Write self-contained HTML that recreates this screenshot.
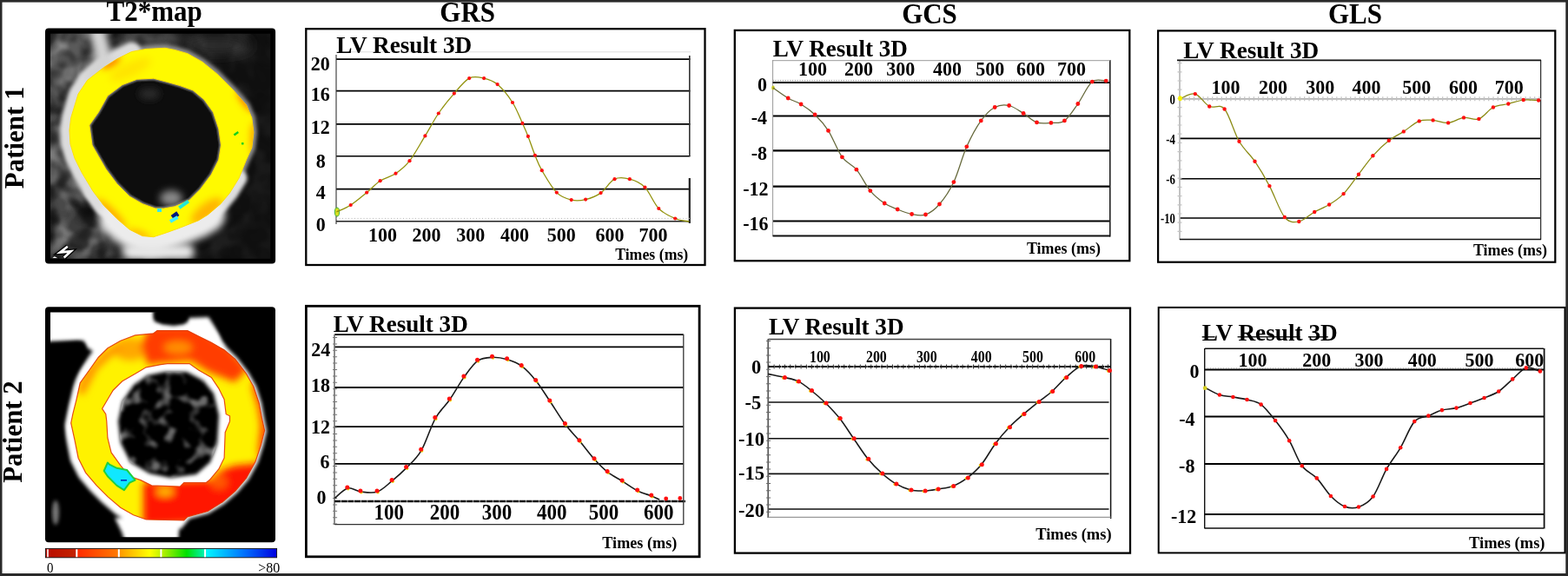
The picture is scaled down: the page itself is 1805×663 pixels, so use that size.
<!DOCTYPE html>
<html lang="en"><head><meta charset="utf-8"><title>T2* map and strain curves</title>
<style>
html,body{margin:0;padding:0;background:#fff;}
body{width:1805px;height:663px;overflow:hidden;}
svg{display:block;font-family:"Liberation Serif","DejaVu Serif",serif;}
</style></head><body>
<svg width="1805" height="663" viewBox="0 0 1805 663">
<defs>
<filter id="b1" filterUnits="userSpaceOnUse" x="0" y="0" width="400" height="663"><feGaussianBlur stdDeviation="1"/></filter>
<filter id="b2" filterUnits="userSpaceOnUse" x="0" y="0" width="400" height="663"><feGaussianBlur stdDeviation="2.2"/></filter>
<filter id="b4" filterUnits="userSpaceOnUse" x="0" y="0" width="400" height="663"><feGaussianBlur stdDeviation="4"/></filter>
<filter id="b7" filterUnits="userSpaceOnUse" x="0" y="0" width="400" height="663"><feGaussianBlur stdDeviation="7"/></filter>
<linearGradient id="cbar" x1="0" x2="1" y1="0" y2="0">
<stop offset="0" stop-color="#b80c00"/><stop offset="0.135" stop-color="#c42400"/><stop offset="0.14" stop-color="#ff2c00"/>
<stop offset="0.31" stop-color="#ff7800"/><stop offset="0.325" stop-color="#ff9c00"/><stop offset="0.45" stop-color="#ffff00"/>
<stop offset="0.505" stop-color="#b8f000"/><stop offset="0.61" stop-color="#00e000"/><stop offset="0.685" stop-color="#00f0b0"/>
<stop offset="0.70" stop-color="#00f4ff"/><stop offset="0.85" stop-color="#0078ff"/><stop offset="1" stop-color="#0000e0"/>
</linearGradient>
<filter id="nz1" filterUnits="userSpaceOnUse" x="52" y="33" width="266" height="271" color-interpolation-filters="sRGB">
<feTurbulence type="fractalNoise" baseFrequency="0.038" numOctaves="2" seed="7" result="n"/>
<feColorMatrix in="n" type="matrix" values="0 0 0 0 1  0 0 0 0 1  0 0 0 0 1  4 0 0 0 -1.7" result="a"/>
<feGaussianBlur in="a" stdDeviation="1.2" result="b"/>
<feComposite in="b" in2="SourceGraphic" operator="in"/>
</filter>
<filter id="nz2" filterUnits="userSpaceOnUse" x="52" y="33" width="266" height="271" color-interpolation-filters="sRGB">
<feTurbulence type="fractalNoise" baseFrequency="0.045" numOctaves="2" seed="21" result="n"/>
<feColorMatrix in="n" type="matrix" values="0 0 0 0 0  0 0 0 0 0  0 0 0 0 0  0 4 0 0 -1.7" result="a"/>
<feGaussianBlur in="a" stdDeviation="1.2" result="b"/>
<feComposite in="b" in2="SourceGraphic" operator="in"/>
</filter>
<filter id="nz3" filterUnits="userSpaceOnUse" x="52" y="353" width="266" height="272" color-interpolation-filters="sRGB">
<feTurbulence type="fractalNoise" baseFrequency="0.055" numOctaves="2" seed="11" result="n"/>
<feColorMatrix in="n" type="matrix" values="0 0 0 0 1  0 0 0 0 1  0 0 0 0 1  5 0 0 0 -2.6" result="a"/>
<feGaussianBlur in="a" stdDeviation="1.4" result="b"/>
<feComposite in="b" in2="SourceGraphic" operator="in"/>
</filter>
<linearGradient id="lg1" x1="0" x2="1" y1="0" y2="0"><stop offset="0" stop-color="#fff"/><stop offset="0.35" stop-color="#fff" stop-opacity="0.8"/><stop offset="0.6" stop-color="#fff" stop-opacity="0.25"/><stop offset="1" stop-color="#fff" stop-opacity="0.12"/></linearGradient>
<mask id="mk1" maskUnits="userSpaceOnUse" x="52" y="33" width="266" height="271"><rect x="52" y="33" width="266" height="271" fill="url(#lg1)"/></mask>
<clipPath id="clip1"><rect x="58" y="38.8" width="253.3" height="259"/></clipPath>
<clipPath id="clip2"><rect x="58" y="359.6" width="253" height="258.6"/></clipPath>
</defs>
<rect x="0" y="0" width="1805" height="663" fill="#fff"/>
<rect x="0" y="0" width="1805" height="2.6" fill="#2a2a2a"/>
<rect x="0" y="0" width="2.5" height="663" fill="#2a2a2a"/>
<rect x="1802.3" y="0" width="2.7" height="663" fill="#2a2a2a"/>
<rect x="0" y="660" width="1805" height="3" fill="#2a2a2a"/>
<text transform="translate(177.7 23.5) scale(1.0 1.08)" font-size="31" text-anchor="middle" font-weight="bold" >T2*map</text>
<text transform="translate(538.2 24.6) scale(1.0 1.08)" font-size="31" text-anchor="middle" font-weight="bold" >GRS</text>
<text transform="translate(1070.0 27.2) scale(1.0 1.08)" font-size="31" text-anchor="middle" font-weight="bold" >GCS</text>
<text transform="translate(1560.0 27.0) scale(1.0 1.08)" font-size="31" text-anchor="middle" font-weight="bold" >GLS</text>
<text transform="translate(27.3,158.4) rotate(-90) scale(1.03 1.08)" font-size="30" font-weight="bold" text-anchor="middle">Patient 1</text>
<text transform="translate(24.6,497) rotate(-90) scale(1.03 1.08)" font-size="30" font-weight="bold" text-anchor="middle">Patient 2</text>
<rect x="52" y="32.6" width="265.1" height="270.9" rx="4" fill="#000"/>
<clipPath id="ring1"><path d="M168.2,56.4 L190.0,55.3 L201.1,57.4 L215.9,61.7 L232.8,71.2 L249.7,84.9 L268.7,103.9 L283.5,120.8 L289.8,135.6 L291.9,152.5 L289.8,170.0 L283.5,184.0 L275.0,205.1 L264.5,222.0 L253.9,234.7 L239.1,247.3 L228.6,253.7 L207.4,262.1 L192.7,267.4 L176.7,272.7 L164.0,271.6 L149.2,264.2 L134.5,251.6 L119.7,236.8 L107.0,219.9 L94.3,198.8 L85.9,181.9 L81.0,166.0 L80.0,150.0 L81.7,135.6 L90.1,108.1 L100.7,92.3 L119.7,77.5 L134.5,68.0 L151.4,59.6Z M176.7,90.2 L192.7,94.4 L207.4,98.6 L222.2,103.9 L234.9,114.5 L245.5,129.2 L251.8,148.2 L254.5,167.0 L251.8,184.0 L243.3,200.9 L230.7,217.8 L218.0,230.5 L201.1,237.8 L188.4,240.0 L178.8,240.0 L164.0,234.7 L149.2,226.2 L134.5,211.5 L121.8,194.6 L113.3,179.8 L106.0,167.0 L102.8,144.0 L113.3,129.2 L123.9,110.2 L140.8,97.6 L157.7,91.2Z" clip-rule="evenodd"/></clipPath>
<g clip-path="url(#clip1)">
<rect x="58" y="38" width="254" height="260" fill="#101010"/>
<g filter="url(#b7)">
<ellipse cx="80" cy="80" rx="34" ry="48" fill="#5a5a5a"/>
<ellipse cx="72" cy="200" rx="22" ry="60" fill="#4a4a4a"/>
<ellipse cx="100" cy="275" rx="40" ry="26" fill="#3c3c3c"/>
<ellipse cx="170" cy="45" rx="40" ry="12" fill="#4c4c4c"/>
<ellipse cx="250" cy="52" rx="40" ry="10" fill="#333"/>
</g>
<g mask="url(#mk1)"><rect x="58" y="38" width="254" height="260" fill="#fff" opacity="0.30" filter="url(#nz1)"/><rect x="58" y="38" width="254" height="260" fill="#000" opacity="0.55" filter="url(#nz2)"/></g>
<g fill="none" stroke-linecap="round" stroke-linejoin="round">
<polygon points="168.2,56.4 190.0,55.3 201.1,57.4 215.9,61.7 232.8,71.2 249.7,84.9 268.7,103.9 283.5,120.8 289.8,135.6 291.9,152.5 289.8,170.0 283.5,184.0 275.0,205.1 264.5,222.0 253.9,234.7 239.1,247.3 228.6,253.7 207.4,262.1 192.7,267.4 176.7,272.7 164.0,271.6 149.2,264.2 134.5,251.6 119.7,236.8 107.0,219.9 94.3,198.8 85.9,181.9 81.0,166.0 80.0,150.0 81.7,135.6 90.1,108.1 100.7,92.3 119.7,77.5 134.5,68.0 151.4,59.6" stroke="#909090" stroke-width="8" filter="url(#b2)"/>
<path d="M119.7,236.8 L107.0,219.9 L94.3,198.8 L85.9,181.9 L81.0,166.0 L80.0,150.0 L81.7,135.6 L90.1,108.1 L100.7,92.3 L119.7,77.5 L134.5,68.0 L151.4,59.6" stroke="#dcdcdc" stroke-width="22" filter="url(#b2)"/>
<path d="M275.0,205.1 L264.5,222.0 L253.9,234.7 L239.1,247.3 L228.6,253.7 L207.4,262.1 L192.7,267.4 L176.7,272.7 L164.0,271.6 L149.2,264.2 L134.5,251.6 L119.7,236.8 L107.0,219.9" stroke="#dedede" stroke-width="19" filter="url(#b2)"/>
<path d="M239.1,247.3 L228.6,253.7 L207.4,262.1 L192.7,267.4 L176.7,272.7 L164.0,271.6 L149.2,264.2 L134.5,251.6" stroke="#ececec" stroke-width="40" filter="url(#b4)"/>
<path d="M110,28 L116,52 L120,70 L108,86" stroke="#d4d4d4" stroke-width="19" filter="url(#b4)"/>
<path d="M150,290 L215,290" stroke="#e8e8e8" stroke-width="18" filter="url(#b4)"/>
</g>
<polygon points="176.7,90.2 192.7,94.4 207.4,98.6 222.2,103.9 234.9,114.5 245.5,129.2 251.8,148.2 254.5,167.0 251.8,184.0 243.3,200.9 230.7,217.8 218.0,230.5 201.1,237.8 188.4,240.0 178.8,240.0 164.0,234.7 149.2,226.2 134.5,211.5 121.8,194.6 113.3,179.8 106.0,167.0 102.8,144.0 113.3,129.2 123.9,110.2 140.8,97.6 157.7,91.2" fill="#0b0b0b" stroke="#8a8a8a" stroke-width="2.5" filter="url(#b1)"/>
<g filter="url(#b4)"><ellipse cx="197" cy="228" rx="13" ry="9" fill="#8a8a8a"/><ellipse cx="172" cy="108" rx="12" ry="7" fill="#2a2a2a"/></g>
<path d="M168.2,56.4 L190.0,55.3 L201.1,57.4 L215.9,61.7 L232.8,71.2 L249.7,84.9 L268.7,103.9 L283.5,120.8 L289.8,135.6 L291.9,152.5 L289.8,170.0 L283.5,184.0 L275.0,205.1 L264.5,222.0 L253.9,234.7 L239.1,247.3 L228.6,253.7 L207.4,262.1 L192.7,267.4 L176.7,272.7 L164.0,271.6 L149.2,264.2 L134.5,251.6 L119.7,236.8 L107.0,219.9 L94.3,198.8 L85.9,181.9 L81.0,166.0 L80.0,150.0 L81.7,135.6 L90.1,108.1 L100.7,92.3 L119.7,77.5 L134.5,68.0 L151.4,59.6Z M176.7,90.2 L192.7,94.4 L207.4,98.6 L222.2,103.9 L234.9,114.5 L245.5,129.2 L251.8,148.2 L254.5,167.0 L251.8,184.0 L243.3,200.9 L230.7,217.8 L218.0,230.5 L201.1,237.8 L188.4,240.0 L178.8,240.0 L164.0,234.7 L149.2,226.2 L134.5,211.5 L121.8,194.6 L113.3,179.8 L106.0,167.0 L102.8,144.0 L113.3,129.2 L123.9,110.2 L140.8,97.6 L157.7,91.2Z" fill="#fffa00" fill-rule="evenodd" stroke="#ffe000" stroke-width="1"/>
<g clip-path="url(#ring1)"><g filter="url(#b4)">
<ellipse cx="238" cy="243" rx="22" ry="9" transform="rotate(-38 238 243)" fill="#ffb400"/>
<ellipse cx="284" cy="116" rx="5" ry="16" transform="rotate(-38 284 116)" fill="#ff6000"/>
<ellipse cx="293" cy="160" rx="4" ry="20" fill="#ff9000"/>
<ellipse cx="128" cy="246" rx="24" ry="5" transform="rotate(45 128 246)" fill="#ffa000"/>
<ellipse cx="160" cy="270" rx="14" ry="4" transform="rotate(20 160 270)" fill="#ffa800"/>
<ellipse cx="128" cy="72" rx="12" ry="4" transform="rotate(-30 128 72)" fill="#ff6000"/>
<ellipse cx="150" cy="80" rx="26" ry="8" transform="rotate(-25 150 80)" fill="#ffe400"/>
</g></g>
<rect x="197.5" y="245.5" width="8" height="5.5" transform="rotate(-35 201 248)" fill="#001878"/>
<rect x="195" y="250.5" width="10" height="4" transform="rotate(-30 200 252)" fill="#40ecff"/>
<rect x="205" y="233" width="13" height="4" transform="rotate(-35 212 235)" fill="#20e8d8"/>
<rect x="181" y="240" width="5" height="4" fill="#30e8ff"/>
<rect x="269" y="152.5" width="6" height="2.5" transform="rotate(-35 272 154)" fill="#10d020"/>
<rect x="278" y="164" width="2.5" height="2.5" fill="#10d020"/>
<path d="M77.8,283.8 L69.2,290.4 L81.7,289.3 L73.7,296.6" fill="none" stroke="#000" stroke-width="5.2" stroke-linejoin="miter"/>
<path d="M77.8,283.8 L69.2,290.4 L81.7,289.3 L73.7,296.6" fill="none" stroke="#fff" stroke-width="2.7" stroke-linejoin="miter"/>
<path d="M58.6,297.6 L62.9,294.8 L67.8,297.4 Z" fill="#fff" stroke="#000" stroke-width="0.8"/>
</g>
<rect x="52" y="353.3" width="265" height="271" rx="4" fill="#000"/>
<clipPath id="ring2"><path d="M180.9,380.6 L215.9,380.6 L228.6,387.0 L243.3,394.3 L258.1,402.8 L270.8,413.3 L283.5,430.2 L291.9,445.0 L298.2,464.0 L301.4,480.9 L304.6,495.6 L300.4,512.4 L294.0,531.5 L283.5,550.5 L270.8,565.2 L256.0,577.9 L239.1,588.5 L215.9,594.8 L211.7,599.0 L168.2,598.0 L153.5,592.7 L138.7,584.2 L123.9,571.6 L111.2,558.9 L98.6,544.1 L90.1,527.2 L85.9,506.1 L81.7,487.0 L83.8,476.7 L88.0,459.8 L92.2,440.8 L102.8,426.0 L113.3,411.2 L123.9,400.7 L138.7,392.2 L155.6,385.9 L176.7,383.8Z M192.7,418.6 L218.0,418.6 L228.6,426.0 L243.3,434.5 L251.8,447.1 L258.1,459.8 L260.2,476.7 L264.5,478.8 L264.5,485.0 L259.2,497.7 L258.1,527.2 L251.8,539.9 L241.2,552.6 L237.0,555.7 L211.7,555.7 L207.4,560.0 L174.6,558.9 L161.9,552.6 L149.2,548.3 L138.7,535.7 L128.1,520.9 L123.9,504.0 L122.8,485.0 L121.8,476.7 L117.6,470.4 L123.9,459.8 L130.2,449.2 L140.8,438.7 L155.6,430.2 L168.2,422.8 L185.1,419.7Z" clip-rule="evenodd"/></clipPath>
<g clip-path="url(#clip2)">
<rect x="50" y="350" width="270" height="280" fill="#000"/>
<g filter="url(#b2)">
<path d="M30,330 L177,330 L177,368 L184,376 L200,378 L214,376 L217,366 L240,365 L250,380 L262,396 L200,402 L120,412 L100,400 L96,392 L30,394 Z" fill="#fff"/>
<polygon points="180.9,380.6 215.9,380.6 228.6,387.0 243.3,394.3 258.1,402.8 270.8,413.3 283.5,430.2 291.9,445.0 298.2,464.0 301.4,480.9 304.6,495.6 300.4,512.4 294.0,531.5 283.5,550.5 270.8,565.2 256.0,577.9 239.1,588.5 215.9,594.8 211.7,599.0 168.2,598.0 153.5,592.7 138.7,584.2 123.9,571.6 111.2,558.9 98.6,544.1 90.1,527.2 85.9,506.1 81.7,487.0 83.8,476.7 88.0,459.8 92.2,440.8 102.8,426.0 113.3,411.2 123.9,400.7 138.7,392.2 155.6,385.9 176.7,383.8" fill="#fff" stroke="#fff" stroke-width="19" stroke-linejoin="round"/>
<path d="M132,596 L207,600 L204,640 L150,640 L140,612 Z" fill="#fff"/>
</g>
<g filter="url(#b2)">
<path d="M261,400 L273,412 L286,429 L295,445 L301,464 L304,481 L307,496 L303,513 L297,532 L286,552 L273,567 L258,580 L240,591 L218,597 L210,607 L208,650 L350,650 L350,330 L246,330 L247,366 L252,380 L256,392 Z" fill="#000"/>
<path d="M178,330 L216,330 L216,366 L212,373 L200,375 L186,373 L178,366 Z" fill="#000"/>
<path d="M30,399 L70,395 L90,393 L98,397 L98,410 L91,425 L84,445 L79,465 L74,490 L73,510 L77,531 L86,552 L100,570 L114,583 L127,596 L134,618 L136,650 L30,650 Z" fill="#000"/>
</g>
<ellipse cx="64" cy="590" rx="4" ry="14" fill="#777" filter="url(#b2)"/>
<polygon points="192.7,418.6 218.0,418.6 228.6,426.0 243.3,434.5 251.8,447.1 258.1,459.8 260.2,476.7 264.5,478.8 264.5,485.0 259.2,497.7 258.1,527.2 251.8,539.9 241.2,552.6 237.0,555.7 211.7,555.7 207.4,560.0 174.6,558.9 161.9,552.6 149.2,548.3 138.7,535.7 128.1,520.9 123.9,504.0 122.8,485.0 121.8,476.7 117.6,470.4 123.9,459.8 130.2,449.2 140.8,438.7 155.6,430.2 168.2,422.8 185.1,419.7" fill="#fff"/>
<polygon points="190.0,428.0 215.0,428.0 234.0,438.0 246.0,453.0 252.0,478.0 250.0,510.0 242.0,532.0 226.0,546.0 196.0,550.0 172.0,545.0 150.0,532.0 139.0,510.0 136.0,485.0 141.0,462.0 154.0,443.0 170.0,432.0" fill="#000" filter="url(#b2)"/>
<polygon points="190.0,428.0 215.0,428.0 234.0,438.0 246.0,453.0 252.0,478.0 250.0,510.0 242.0,532.0 226.0,546.0 196.0,550.0 172.0,545.0 150.0,532.0 139.0,510.0 136.0,485.0 141.0,462.0 154.0,443.0 170.0,432.0" fill="#fff" opacity="0.42" filter="url(#nz3)"/>
<path d="M180.9,380.6 L215.9,380.6 L228.6,387.0 L243.3,394.3 L258.1,402.8 L270.8,413.3 L283.5,430.2 L291.9,445.0 L298.2,464.0 L301.4,480.9 L304.6,495.6 L300.4,512.4 L294.0,531.5 L283.5,550.5 L270.8,565.2 L256.0,577.9 L239.1,588.5 L215.9,594.8 L211.7,599.0 L168.2,598.0 L153.5,592.7 L138.7,584.2 L123.9,571.6 L111.2,558.9 L98.6,544.1 L90.1,527.2 L85.9,506.1 L81.7,487.0 L83.8,476.7 L88.0,459.8 L92.2,440.8 L102.8,426.0 L113.3,411.2 L123.9,400.7 L138.7,392.2 L155.6,385.9 L176.7,383.8Z M192.7,418.6 L218.0,418.6 L228.6,426.0 L243.3,434.5 L251.8,447.1 L258.1,459.8 L260.2,476.7 L264.5,478.8 L264.5,485.0 L259.2,497.7 L258.1,527.2 L251.8,539.9 L241.2,552.6 L237.0,555.7 L211.7,555.7 L207.4,560.0 L174.6,558.9 L161.9,552.6 L149.2,548.3 L138.7,535.7 L128.1,520.9 L123.9,504.0 L122.8,485.0 L121.8,476.7 L117.6,470.4 L123.9,459.8 L130.2,449.2 L140.8,438.7 L155.6,430.2 L168.2,422.8 L185.1,419.7Z" fill="#fff200" fill-rule="evenodd"/>
<g clip-path="url(#ring2)"><g filter="url(#b4)">
<ellipse cx="150" cy="402" rx="20" ry="13" fill="#ffa800"/>
<path d="M172,375 L225,375 L262,398 L285,425 L270,440 L240,428 L220,415 L182,418 L170,420 L162,398 Z" fill="#ff3c00"/>
<ellipse cx="205" cy="400" rx="16" ry="7" fill="#ff9000"/>
<path d="M165,555 L240,553 L254,542 L270,536 L292,534 L310,526 L300,560 L250,600 L165,605 Z" fill="#ff1400"/>
<path d="M296,430 L306,470 L310,500 L302,535 L297,520 L300,490 L297,470 L290,445 Z" fill="#ff4000"/>
<ellipse cx="252" cy="555" rx="10" ry="8" fill="#ff5a00"/>
<ellipse cx="190" cy="566" rx="10" ry="5" fill="#ffc000"/>
<path d="M88,450 L100,425 L120,405 L135,395 L140,400 L112,425 L96,455 Z" fill="#ff9000"/>
</g></g>
<path d="M180.9,380.6 L215.9,380.6 L228.6,387.0 L243.3,394.3 L258.1,402.8 L270.8,413.3 L283.5,430.2 L291.9,445.0 L298.2,464.0 L301.4,480.9 L304.6,495.6 L300.4,512.4 L294.0,531.5 L283.5,550.5 L270.8,565.2 L256.0,577.9 L239.1,588.5 L215.9,594.8 L211.7,599.0 L168.2,598.0 L153.5,592.7 L138.7,584.2 L123.9,571.6 L111.2,558.9 L98.6,544.1 L90.1,527.2 L85.9,506.1 L81.7,487.0 L83.8,476.7 L88.0,459.8 L92.2,440.8 L102.8,426.0 L113.3,411.2 L123.9,400.7 L138.7,392.2 L155.6,385.9 L176.7,383.8Z M192.7,418.6 L218.0,418.6 L228.6,426.0 L243.3,434.5 L251.8,447.1 L258.1,459.8 L260.2,476.7 L264.5,478.8 L264.5,485.0 L259.2,497.7 L258.1,527.2 L251.8,539.9 L241.2,552.6 L237.0,555.7 L211.7,555.7 L207.4,560.0 L174.6,558.9 L161.9,552.6 L149.2,548.3 L138.7,535.7 L128.1,520.9 L123.9,504.0 L122.8,485.0 L121.8,476.7 L117.6,470.4 L123.9,459.8 L130.2,449.2 L140.8,438.7 L155.6,430.2 L168.2,422.8 L185.1,419.7Z" fill="none" stroke="#e03000" stroke-width="1.2" stroke-opacity="0.85"/>
<path d="M123.9,532.5 L119.7,542 L123.9,548.3 L134.5,558.9 L142.9,564.2 L149.2,555.7 L155.6,552.6 L146.1,541 L134.5,538.8 L126,534.6 Z" fill="#10e8ff" stroke="#20d040" stroke-width="2" stroke-linejoin="round"/>
<rect x="139" y="552" width="7" height="1.6" fill="#0030c0"/>
</g>
<rect x="52.4" y="631.4" width="266.2" height="10.4" fill="url(#cbar)" stroke="#111" stroke-width="0.9"/>
<rect x="54.2" y="632.2" width="1.6" height="9" fill="#fff"/>
<rect x="87.3" y="632.2" width="2" height="9" fill="#fff"/>
<rect x="135.8" y="632.2" width="2" height="9" fill="#fff"/>
<rect x="184.4" y="632.2" width="2" height="9" fill="#fff"/>
<rect x="235.1" y="632.2" width="2" height="9" fill="#fff"/>
<text transform="translate(54.0 659.4) scale(1.0 1.1)" font-size="15" text-anchor="start" font-weight="normal" >0</text>
<text transform="translate(322.3 659.4) scale(1.0 1.05)" font-size="16" text-anchor="end" font-weight="normal" >&gt;80</text>
<rect x="352.3" y="33.2" width="459.2" height="271.8" fill="#fff" stroke="#000" stroke-width="2.3"/>

<line x1="387.0" y1="68.1" x2="794.4" y2="68.1" stroke="#000" stroke-width="1.6"/>
<line x1="387.0" y1="104.6" x2="794.4" y2="104.6" stroke="#000" stroke-width="1.6"/>
<line x1="387.0" y1="142.9" x2="794.4" y2="142.9" stroke="#000" stroke-width="1.6"/>
<line x1="387.0" y1="179.8" x2="794.4" y2="179.8" stroke="#000" stroke-width="1.6"/>
<line x1="387.0" y1="217.6" x2="794.4" y2="217.6" stroke="#000" stroke-width="1.6"/>
<line x1="387.0" y1="63.0" x2="387.0" y2="258.0" stroke="#333" stroke-width="1.1"/><line x1="793.8" y1="64.0" x2="793.8" y2="180.0" stroke="#333" stroke-width="1.6"/><line x1="793.8" y1="205.0" x2="793.8" y2="257.0" stroke="#222" stroke-width="2.2"/><line x1="387.0" y1="59.8" x2="795.0" y2="59.8" stroke="#ddd" stroke-width="1"/><line x1="387.0" y1="254.8" x2="794.5" y2="254.8" stroke="#222" stroke-width="1.4"/><line x1="387.0" y1="251.4" x2="794.5" y2="251.4" stroke="#bbb" stroke-width="1" stroke-dasharray="1 2.5"/><ellipse cx="388" cy="244" rx="2.6" ry="5" fill="#d8e020" stroke="#40b040" stroke-width="1"/>
<path d="M387.3,244.0C390.0,242.7 397.9,239.8 403.7,236.0C409.5,232.3 416.5,226.2 422.2,221.6C427.8,216.9 432.0,211.8 437.6,208.2C443.2,204.5 449.9,203.5 455.5,199.7C461.2,195.9 465.8,192.5 471.5,185.2C477.1,178.0 483.8,165.5 489.4,156.4C495.0,147.2 499.3,138.6 504.8,130.5C510.4,122.3 516.9,114.3 522.8,107.6C528.6,100.8 534.5,93.0 540.2,90.1C545.9,87.2 551.7,89.0 557.1,90.1C562.5,91.3 567.1,92.5 572.6,97.1C578.0,101.8 585.2,110.5 590.0,118.0C594.8,125.5 598.4,135.4 601.4,141.9C604.4,148.4 605.5,150.7 607.9,156.9C610.3,163.0 613.2,172.2 615.9,178.8C618.5,185.3 619.7,189.1 623.8,196.2C628.0,203.3 635.1,216.0 640.8,221.6C646.4,227.2 652.1,228.7 657.7,230.1C663.3,231.4 668.5,230.9 674.1,229.6C679.8,228.2 686.0,226.0 691.6,222.1C697.1,218.2 701.9,208.8 707.5,206.2C713.1,203.5 719.1,204.6 724.9,206.2C730.7,207.7 736.8,210.0 742.4,215.6C747.9,221.3 752.5,234.0 758.3,240.0C764.1,246.0 771.4,249.0 777.2,251.5C783.0,254.0 790.5,254.4 793.2,255.0" fill="none" stroke="#92920c" stroke-width="1.3" stroke-linejoin="round"/>
<circle cx="403.7" cy="236.0" r="2.1" fill="#ff1010"/>
<circle cx="422.2" cy="221.6" r="2.1" fill="#ff1010"/>
<circle cx="437.6" cy="208.2" r="2.1" fill="#ff1010"/>
<circle cx="455.5" cy="199.7" r="2.1" fill="#ff1010"/>
<circle cx="471.5" cy="185.2" r="2.1" fill="#ff1010"/>
<circle cx="489.4" cy="156.4" r="2.1" fill="#ff1010"/>
<circle cx="504.8" cy="130.5" r="2.1" fill="#ff1010"/>
<circle cx="522.8" cy="107.6" r="2.1" fill="#ff1010"/>
<circle cx="540.2" cy="90.1" r="2.1" fill="#ff1010"/>
<circle cx="557.1" cy="90.1" r="2.1" fill="#ff1010"/>
<circle cx="572.6" cy="97.1" r="2.1" fill="#ff1010"/>
<circle cx="590.0" cy="118.0" r="2.1" fill="#ff1010"/>
<circle cx="601.4" cy="141.9" r="2.1" fill="#ff1010"/>
<circle cx="607.9" cy="156.9" r="2.1" fill="#ff1010"/>
<circle cx="615.9" cy="178.8" r="2.1" fill="#ff1010"/>
<circle cx="623.8" cy="196.2" r="2.1" fill="#ff1010"/>
<circle cx="640.8" cy="221.6" r="2.1" fill="#ff1010"/>
<circle cx="657.7" cy="230.1" r="2.1" fill="#ff1010"/>
<circle cx="674.1" cy="229.6" r="2.1" fill="#ff1010"/>
<circle cx="691.6" cy="222.1" r="2.1" fill="#ff1010"/>
<circle cx="707.5" cy="206.2" r="2.1" fill="#ff1010"/>
<circle cx="724.9" cy="206.2" r="2.1" fill="#ff1010"/>
<circle cx="742.4" cy="215.6" r="2.1" fill="#ff1010"/>
<circle cx="758.3" cy="240.0" r="2.1" fill="#ff1010"/>
<circle cx="777.2" cy="251.5" r="2.1" fill="#ff1010"/>

<text transform="translate(387.3 60.8) scale(1.0 1.07)" font-size="26" text-anchor="start" font-weight="bold" textLength="156.0" lengthAdjust="spacingAndGlyphs" >LV Result 3D</text>
<text transform="translate(379.8 80.7) scale(1.0 1.07)" font-size="22" text-anchor="end" font-weight="bold" >20</text>
<text transform="translate(379.8 115.6) scale(1.0 1.07)" font-size="22" text-anchor="end" font-weight="bold" >16</text>
<text transform="translate(379.8 153.9) scale(1.0 1.07)" font-size="22" text-anchor="end" font-weight="bold" >12</text>
<text transform="translate(374.8 192.8) scale(1.0 1.07)" font-size="22" text-anchor="end" font-weight="bold" >8</text>
<text transform="translate(374.8 229.1) scale(1.0 1.07)" font-size="22" text-anchor="end" font-weight="bold" >4</text>
<text transform="translate(374.8 265.5) scale(1.0 1.07)" font-size="22" text-anchor="end" font-weight="bold" >0</text>
<text transform="translate(440.6 278.3) scale(1.0 1.07)" font-size="22" text-anchor="middle" font-weight="bold" >100</text>
<text transform="translate(490.9 278.3) scale(1.0 1.07)" font-size="22" text-anchor="middle" font-weight="bold" >200</text>
<text transform="translate(541.7 278.3) scale(1.0 1.07)" font-size="22" text-anchor="middle" font-weight="bold" >300</text>
<text transform="translate(592.5 278.3) scale(1.0 1.07)" font-size="22" text-anchor="middle" font-weight="bold" >400</text>
<text transform="translate(646.3 278.3) scale(1.0 1.07)" font-size="22" text-anchor="middle" font-weight="bold" >500</text>
<text transform="translate(702.0 278.3) scale(1.0 1.07)" font-size="22" text-anchor="middle" font-weight="bold" >600</text>
<text transform="translate(751.9 278.3) scale(1.0 1.07)" font-size="22" text-anchor="middle" font-weight="bold" >700</text>
<text transform="translate(792.3 298.8) scale(1.0 1.07)" font-size="17.8" text-anchor="end" font-weight="bold" >Times (ms)</text>
<rect x="845.8" y="34.9" width="454.5" height="265.3" fill="#fff" stroke="#000" stroke-width="2.3"/>

<line x1="889.6" y1="133.5" x2="1278.0" y2="133.5" stroke="#000" stroke-width="2.2"/>
<line x1="889.6" y1="173.3" x2="1278.0" y2="173.3" stroke="#000" stroke-width="2.2"/>
<line x1="889.6" y1="214.6" x2="1278.0" y2="214.6" stroke="#000" stroke-width="2.2"/>
<line x1="889.6" y1="254.5" x2="1278.0" y2="254.5" stroke="#000" stroke-width="2.2"/>
<line x1="889.6" y1="69.0" x2="889.6" y2="272.0" stroke="#999" stroke-width="1"/><line x1="1277.8" y1="69.0" x2="1277.8" y2="272.5" stroke="#222" stroke-width="1.6"/><line x1="889.6" y1="69.7" x2="1278.0" y2="69.7" stroke="#999" stroke-width="1"/><line x1="889.6" y1="271.4" x2="1278.0" y2="271.4" stroke="#111" stroke-width="2"/><line x1="889.6" y1="92.6" x2="1278.0" y2="92.6" stroke="#999" stroke-width="1.4" stroke-dasharray="1.2 1.6"/><line x1="889.6" y1="95.0" x2="1278.0" y2="95.0" stroke="#000" stroke-width="2.2"/><ellipse cx="890" cy="101" rx="1.8" ry="2.6" fill="#c8c820"/>
<path d="M889.8,101.1C892.7,103.1 901.8,109.9 907.2,113.0C912.6,116.2 917.0,116.9 922.1,120.0C927.3,123.2 932.8,126.9 938.1,132.0C943.3,137.0 948.3,142.3 953.5,150.4C958.7,158.5 964.0,173.3 969.4,180.8C974.8,188.2 980.5,188.7 985.9,195.2C991.3,201.7 996.4,213.1 1001.8,219.6C1007.2,226.1 1013.0,230.5 1018.2,234.0C1023.5,237.6 1027.9,238.9 1033.2,241.0C1038.4,243.1 1044.2,245.5 1049.6,246.5C1055.0,247.5 1060.2,248.9 1065.5,247.0C1070.9,245.1 1076.1,241.3 1081.5,235.0C1086.9,228.8 1092.7,220.7 1097.9,209.6C1103.1,198.6 1107.6,180.6 1112.8,168.8C1118.1,157.0 1123.9,146.5 1129.3,138.9C1134.7,131.4 1139.8,126.4 1145.2,123.5C1150.6,120.6 1156.2,120.3 1161.6,121.5C1167.1,122.7 1172.8,127.2 1178.1,130.5C1183.4,133.7 1188.2,139.1 1193.5,140.9C1198.8,142.8 1204.6,141.8 1209.9,141.4C1215.3,141.1 1220.2,142.6 1225.4,138.9C1230.5,135.3 1235.5,127.0 1240.8,119.5C1246.1,112.0 1251.9,98.5 1257.3,94.1C1262.7,89.7 1270.5,93.3 1273.2,93.1" fill="none" stroke="#65683a" stroke-width="1.25" stroke-linejoin="round"/>
<circle cx="907.2" cy="113.0" r="2.4" fill="#ff1010"/>
<circle cx="922.1" cy="120.0" r="2.4" fill="#ff1010"/>
<circle cx="938.1" cy="132.0" r="2.4" fill="#ff1010"/>
<circle cx="953.5" cy="150.4" r="2.4" fill="#ff1010"/>
<circle cx="969.4" cy="180.8" r="2.4" fill="#ff1010"/>
<circle cx="985.9" cy="195.2" r="2.4" fill="#ff1010"/>
<circle cx="1001.8" cy="219.6" r="2.4" fill="#ff1010"/>
<circle cx="1018.2" cy="234.0" r="2.4" fill="#ff1010"/>
<circle cx="1033.2" cy="241.0" r="2.4" fill="#ff1010"/>
<circle cx="1049.6" cy="246.5" r="2.4" fill="#ff1010"/>
<circle cx="1065.5" cy="247.0" r="2.4" fill="#ff1010"/>
<circle cx="1081.5" cy="235.0" r="2.4" fill="#ff1010"/>
<circle cx="1097.9" cy="209.6" r="2.4" fill="#ff1010"/>
<circle cx="1112.8" cy="168.8" r="2.4" fill="#ff1010"/>
<circle cx="1129.3" cy="138.9" r="2.4" fill="#ff1010"/>
<circle cx="1145.2" cy="123.5" r="2.4" fill="#ff1010"/>
<circle cx="1161.6" cy="121.5" r="2.4" fill="#ff1010"/>
<circle cx="1178.1" cy="130.5" r="2.4" fill="#ff1010"/>
<circle cx="1193.5" cy="140.9" r="2.4" fill="#ff1010"/>
<circle cx="1209.9" cy="141.4" r="2.4" fill="#ff1010"/>
<circle cx="1225.4" cy="138.9" r="2.4" fill="#ff1010"/>
<circle cx="1240.8" cy="119.5" r="2.4" fill="#ff1010"/>
<circle cx="1257.3" cy="94.1" r="2.4" fill="#ff1010"/>
<circle cx="1273.2" cy="93.1" r="2.4" fill="#ff1010"/>

<text transform="translate(889.8 64.7) scale(1.0 1.07)" font-size="26" text-anchor="start" font-weight="bold" textLength="155.0" lengthAdjust="spacingAndGlyphs" >LV Result 3D</text>
<text transform="translate(883.0 105.1) scale(1.0 1.07)" font-size="22" text-anchor="end" font-weight="bold" >0</text>
<text transform="translate(883.0 142.5) scale(1.0 1.07)" font-size="22" text-anchor="end" font-weight="bold" >-4</text>
<text transform="translate(883.0 183.8) scale(1.0 1.07)" font-size="22" text-anchor="end" font-weight="bold" >-8</text>
<text transform="translate(884.5 224.6) scale(1.0 1.07)" font-size="22" text-anchor="end" font-weight="bold" >-12</text>
<text transform="translate(884.5 264.5) scale(1.0 1.07)" font-size="22" text-anchor="end" font-weight="bold" >-16</text>
<text transform="translate(935.6 87.0) scale(1.0 1.07)" font-size="22" text-anchor="middle" font-weight="bold" >100</text>
<text transform="translate(988.6 87.0) scale(1.0 1.07)" font-size="22" text-anchor="middle" font-weight="bold" >200</text>
<text transform="translate(1036.8 87.0) scale(1.0 1.07)" font-size="22" text-anchor="middle" font-weight="bold" >300</text>
<text transform="translate(1090.6 87.0) scale(1.0 1.07)" font-size="22" text-anchor="middle" font-weight="bold" >400</text>
<text transform="translate(1139.8 87.0) scale(1.0 1.07)" font-size="22" text-anchor="middle" font-weight="bold" >500</text>
<text transform="translate(1186.6 87.0) scale(1.0 1.07)" font-size="22" text-anchor="middle" font-weight="bold" >600</text>
<text transform="translate(1233.4 87.0) scale(1.0 1.07)" font-size="22" text-anchor="middle" font-weight="bold" >700</text>
<text transform="translate(1267.0 292.2) scale(1.0 1.07)" font-size="18" text-anchor="end" font-weight="bold" >Times (ms)</text>
<rect x="1333.1" y="35.4" width="457.2" height="266.3" fill="#fff" stroke="#000" stroke-width="2.2"/>

<line x1="1358.0" y1="159.4" x2="1774.0" y2="159.4" stroke="#000" stroke-width="1.6"/>
<line x1="1358.0" y1="205.7" x2="1774.0" y2="205.7" stroke="#000" stroke-width="1.6"/>
<line x1="1358.0" y1="251.0" x2="1774.0" y2="251.0" stroke="#000" stroke-width="1.6"/>
<line x1="1358.0" y1="69.0" x2="1358.0" y2="276.0" stroke="#b4b4b4" stroke-width="1.6"/><line x1="1358.0" y1="72.0" x2="1358.0" y2="276.0" stroke="#c4c4c4" stroke-width="5" stroke-dasharray="1.2 9"/><line x1="1773.6" y1="69.0" x2="1773.6" y2="276.0" stroke="#333" stroke-width="1.3"/><line x1="1355.0" y1="69.4" x2="1774.0" y2="69.4" stroke="#111" stroke-width="1.8"/><line x1="1358.0" y1="275.5" x2="1774.0" y2="275.5" stroke="#111" stroke-width="1.6"/><line x1="1358.0" y1="113.8" x2="1774.0" y2="113.8" stroke="#b4b4b4" stroke-width="1.8"/><line x1="1358.0" y1="113.8" x2="1774.0" y2="113.8" stroke="#c0c0c0" stroke-width="5" stroke-dasharray="1.2 4.1"/>
<path d="M1358.8,113.5C1361.6,112.6 1370.2,106.6 1375.8,108.1C1381.3,109.6 1386.5,119.6 1392.2,122.5C1397.8,125.4 1403.9,118.8 1409.6,125.5C1415.3,132.2 1420.7,152.8 1426.5,162.8C1432.4,172.9 1438.7,177.2 1444.5,185.7C1450.3,194.3 1455.7,203.4 1461.4,214.1C1467.1,224.8 1473.2,243.2 1478.8,250.0C1484.5,256.8 1489.5,256.0 1495.3,255.0C1501.0,254.0 1507.4,247.2 1513.2,244.0C1519.0,240.8 1524.6,239.0 1530.1,235.5C1535.7,232.1 1540.9,228.9 1546.6,223.1C1552.2,217.3 1558.3,208.0 1564.0,200.7C1569.6,193.4 1574.6,185.7 1580.4,179.3C1586.2,172.8 1592.9,166.5 1598.8,161.8C1604.7,157.2 1610.0,155.1 1615.8,151.4C1621.6,147.6 1628.1,141.6 1633.7,139.4C1639.3,137.3 1644.1,138.1 1649.6,138.4C1655.2,138.8 1661.2,141.9 1667.1,141.4C1673.0,140.9 1679.1,136.2 1685.0,135.4C1690.9,134.7 1696.8,138.9 1702.4,136.9C1708.1,134.9 1713.2,126.4 1718.9,123.5C1724.5,120.6 1730.5,120.9 1736.3,119.5C1742.1,118.1 1747.9,115.7 1753.7,115.0C1759.5,114.4 1768.2,115.4 1771.1,115.5" fill="none" stroke="#8a8a12" stroke-width="1.25" stroke-linejoin="round"/>
<circle cx="1375.8" cy="108.1" r="2.2" fill="#ff1010"/>
<circle cx="1392.2" cy="122.5" r="2.2" fill="#ff1010"/>
<circle cx="1409.6" cy="125.5" r="2.2" fill="#ff1010"/>
<circle cx="1426.5" cy="162.8" r="2.2" fill="#ff1010"/>
<circle cx="1444.5" cy="185.7" r="2.2" fill="#ff1010"/>
<circle cx="1461.4" cy="214.1" r="2.2" fill="#ff1010"/>
<circle cx="1478.8" cy="250.0" r="2.2" fill="#ff1010"/>
<circle cx="1495.3" cy="255.0" r="2.2" fill="#ff1010"/>
<circle cx="1513.2" cy="244.0" r="2.2" fill="#ff1010"/>
<circle cx="1530.1" cy="235.5" r="2.2" fill="#ff1010"/>
<circle cx="1546.6" cy="223.1" r="2.2" fill="#ff1010"/>
<circle cx="1564.0" cy="200.7" r="2.2" fill="#ff1010"/>
<circle cx="1580.4" cy="179.3" r="2.2" fill="#ff1010"/>
<circle cx="1598.8" cy="161.8" r="2.2" fill="#ff1010"/>
<circle cx="1615.8" cy="151.4" r="2.2" fill="#ff1010"/>
<circle cx="1633.7" cy="139.4" r="2.2" fill="#ff1010"/>
<circle cx="1649.6" cy="138.4" r="2.2" fill="#ff1010"/>
<circle cx="1667.1" cy="141.4" r="2.2" fill="#ff1010"/>
<circle cx="1685.0" cy="135.4" r="2.2" fill="#ff1010"/>
<circle cx="1702.4" cy="136.9" r="2.2" fill="#ff1010"/>
<circle cx="1718.9" cy="123.5" r="2.2" fill="#ff1010"/>
<circle cx="1736.3" cy="119.5" r="2.2" fill="#ff1010"/>
<circle cx="1753.7" cy="115.0" r="2.2" fill="#ff1010"/>
<circle cx="1771.1" cy="115.5" r="2.2" fill="#ff1010"/>
<ellipse cx="1358.5" cy="113.3" rx="2.4" ry="3" fill="#f4f000"/>
<text transform="translate(1362.3 66.9) scale(1.0 1.07)" font-size="26" text-anchor="start" font-weight="bold" textLength="156.0" lengthAdjust="spacingAndGlyphs" >LV Result 3D</text>
<text transform="translate(1353.0 119.9) scale(0.88 1.2)" font-size="14.5" text-anchor="end" font-weight="bold" >0</text>
<text transform="translate(1353.0 165.8) scale(0.88 1.2)" font-size="14.5" text-anchor="end" font-weight="bold" >-4</text>
<text transform="translate(1353.0 212.1) scale(0.88 1.2)" font-size="14.5" text-anchor="end" font-weight="bold" >-6</text>
<text transform="translate(1353.0 256.9) scale(0.88 1.2)" font-size="14.5" text-anchor="end" font-weight="bold" >-10</text>
<text transform="translate(1411.1 108.0) scale(1.0 1.07)" font-size="22" text-anchor="middle" font-weight="bold" >100</text>
<text transform="translate(1465.4 108.0) scale(1.0 1.07)" font-size="22" text-anchor="middle" font-weight="bold" >200</text>
<text transform="translate(1519.7 108.0) scale(1.0 1.07)" font-size="22" text-anchor="middle" font-weight="bold" >300</text>
<text transform="translate(1573.0 108.0) scale(1.0 1.07)" font-size="22" text-anchor="middle" font-weight="bold" >400</text>
<text transform="translate(1630.7 108.0) scale(1.0 1.07)" font-size="22" text-anchor="middle" font-weight="bold" >500</text>
<text transform="translate(1684.5 108.0) scale(1.0 1.07)" font-size="22" text-anchor="middle" font-weight="bold" >600</text>
<text transform="translate(1737.3 108.0) scale(1.0 1.07)" font-size="22" text-anchor="middle" font-weight="bold" >700</text>
<text transform="translate(1781.0 294.0) scale(1.0 1.07)" font-size="18" text-anchor="end" font-weight="bold" >Times (ms)</text>
<rect x="352.4" y="352.3" width="452.7" height="288.5" fill="#fff" stroke="#000" stroke-width="2.8"/>

<line x1="385.2" y1="385.2" x2="786.8" y2="385.2" stroke="#000" stroke-width="1.8"/>
<line x1="385.2" y1="399.3" x2="786.8" y2="399.3" stroke="#000" stroke-width="1.8"/>
<line x1="385.2" y1="446.0" x2="786.8" y2="446.0" stroke="#000" stroke-width="1.8"/>
<line x1="385.2" y1="491.2" x2="786.8" y2="491.2" stroke="#000" stroke-width="1.8"/>
<line x1="385.2" y1="533.8" x2="786.8" y2="533.8" stroke="#000" stroke-width="1.8"/>
<line x1="385.0" y1="385.0" x2="385.0" y2="604.0" stroke="#666" stroke-width="1.5"/><line x1="385.6" y1="388.0" x2="385.6" y2="604.0" stroke="#777" stroke-width="5" stroke-dasharray="1 6.4"/><line x1="786.8" y1="385.0" x2="786.8" y2="604.0" stroke="#333" stroke-width="1.3"/><line x1="385.2" y1="603.6" x2="786.8" y2="603.6" stroke="#333" stroke-width="1.4"/><line x1="385.2" y1="577.0" x2="789.0" y2="577.0" stroke="#111" stroke-width="2.3" stroke-dasharray="7 0.6"/>
<path d="M385.2,573.5C387.7,571.6 395.2,563.2 400.2,561.9C405.3,560.7 409.6,565.3 415.3,566.0C421.0,566.6 428.4,568.1 434.4,566.0C440.4,563.9 445.8,558.0 451.5,553.4C457.1,548.8 462.4,544.2 468.0,538.4C473.6,532.5 479.6,527.7 485.1,518.3C490.6,508.8 495.7,491.3 501.2,481.6C506.6,471.9 512.2,468.0 517.7,460.0C523.2,452.1 528.9,441.4 534.3,433.9C539.6,426.5 544.4,419.1 549.9,415.3C555.3,411.6 561.2,411.6 566.9,411.3C572.6,411.1 578.4,412.2 584.0,413.8C589.6,415.5 595.0,417.3 600.6,421.4C606.1,425.5 611.7,431.7 617.1,438.4C622.6,445.2 627.6,453.7 633.2,462.0C638.8,470.4 645.1,481.0 650.8,488.6C656.5,496.3 661.7,501.0 667.3,507.7C672.9,514.4 679.1,522.9 684.4,528.8C689.8,534.8 694.1,539.2 699.5,543.4C704.8,547.6 710.8,550.3 716.5,553.9C722.3,557.5 728.5,562.1 734.1,565.0C739.7,567.8 746.0,569.3 750.2,571.0C754.4,572.7 757.7,574.3 759.2,575.0" fill="none" stroke="#1a1a1a" stroke-width="1.6" stroke-linejoin="round"/>
<circle cx="400.8" cy="562.7" r="1.7" fill="#e8e000"/>
<circle cx="399.8" cy="560.9" r="2.5" fill="#ff1010"/>
<circle cx="415.9" cy="566.8" r="1.7" fill="#e8e000"/>
<circle cx="414.9" cy="565.0" r="2.5" fill="#ff1010"/>
<circle cx="435.0" cy="566.8" r="1.7" fill="#e8e000"/>
<circle cx="434.0" cy="565.0" r="2.5" fill="#ff1010"/>
<circle cx="452.1" cy="554.2" r="1.7" fill="#e8e000"/>
<circle cx="451.1" cy="552.4" r="2.5" fill="#ff1010"/>
<circle cx="468.6" cy="539.2" r="1.7" fill="#e8e000"/>
<circle cx="467.6" cy="537.4" r="2.5" fill="#ff1010"/>
<circle cx="485.7" cy="519.1" r="1.7" fill="#e8e000"/>
<circle cx="484.7" cy="517.3" r="2.5" fill="#ff1010"/>
<circle cx="501.8" cy="482.4" r="1.7" fill="#e8e000"/>
<circle cx="500.8" cy="480.6" r="2.5" fill="#ff1010"/>
<circle cx="518.3" cy="460.8" r="1.7" fill="#e8e000"/>
<circle cx="517.3" cy="459.0" r="2.5" fill="#ff1010"/>
<circle cx="534.9" cy="434.7" r="1.7" fill="#e8e000"/>
<circle cx="533.9" cy="432.9" r="2.5" fill="#ff1010"/>
<circle cx="550.5" cy="416.1" r="1.7" fill="#e8e000"/>
<circle cx="549.5" cy="414.3" r="2.5" fill="#ff1010"/>
<circle cx="567.5" cy="412.1" r="1.7" fill="#e8e000"/>
<circle cx="566.5" cy="410.3" r="2.5" fill="#ff1010"/>
<circle cx="584.6" cy="414.6" r="1.7" fill="#e8e000"/>
<circle cx="583.6" cy="412.8" r="2.5" fill="#ff1010"/>
<circle cx="601.2" cy="422.2" r="1.7" fill="#e8e000"/>
<circle cx="600.2" cy="420.4" r="2.5" fill="#ff1010"/>
<circle cx="617.7" cy="439.2" r="1.7" fill="#e8e000"/>
<circle cx="616.7" cy="437.4" r="2.5" fill="#ff1010"/>
<circle cx="633.8" cy="462.8" r="1.7" fill="#e8e000"/>
<circle cx="632.8" cy="461.0" r="2.5" fill="#ff1010"/>
<circle cx="651.4" cy="489.4" r="1.7" fill="#e8e000"/>
<circle cx="650.4" cy="487.6" r="2.5" fill="#ff1010"/>
<circle cx="667.9" cy="508.5" r="1.7" fill="#e8e000"/>
<circle cx="666.9" cy="506.7" r="2.5" fill="#ff1010"/>
<circle cx="685.0" cy="529.6" r="1.7" fill="#e8e000"/>
<circle cx="684.0" cy="527.8" r="2.5" fill="#ff1010"/>
<circle cx="700.1" cy="544.2" r="1.7" fill="#e8e000"/>
<circle cx="699.1" cy="542.4" r="2.5" fill="#ff1010"/>
<circle cx="717.1" cy="554.7" r="1.7" fill="#e8e000"/>
<circle cx="716.1" cy="552.9" r="2.5" fill="#ff1010"/>
<circle cx="734.7" cy="565.8" r="1.7" fill="#e8e000"/>
<circle cx="733.7" cy="564.0" r="2.5" fill="#ff1010"/>
<circle cx="750.8" cy="571.8" r="1.7" fill="#e8e000"/>
<circle cx="749.8" cy="570.0" r="2.5" fill="#ff1010"/>
<circle cx="766.7" cy="574.0" r="2.4" fill="#ff1010"/><circle cx="782.8" cy="573.5" r="2.4" fill="#ff1010"/>
<text transform="translate(383.7 381.9) scale(1.0 1.07)" font-size="26" text-anchor="start" font-weight="bold" textLength="155.0" lengthAdjust="spacingAndGlyphs" >LV Result 3D</text>
<text transform="translate(380.3 409.5) scale(1.0 1.07)" font-size="22" text-anchor="end" font-weight="bold" >24</text>
<text transform="translate(380.0 451.4) scale(1.0 1.07)" font-size="22" text-anchor="end" font-weight="bold" >18</text>
<text transform="translate(380.0 499.0) scale(1.0 1.07)" font-size="22" text-anchor="end" font-weight="bold" >12</text>
<text transform="translate(379.4 539.0) scale(1.0 1.07)" font-size="22" text-anchor="end" font-weight="bold" >6</text>
<text transform="translate(375.6 579.8) scale(1.0 1.07)" font-size="22" text-anchor="end" font-weight="bold" >0</text>
<text transform="translate(447.8 598.1) scale(1.0 1.07)" font-size="23" text-anchor="middle" font-weight="bold" >100</text>
<text transform="translate(512.0 598.1) scale(1.0 1.07)" font-size="23" text-anchor="middle" font-weight="bold" >200</text>
<text transform="translate(572.0 598.1) scale(1.0 1.07)" font-size="23" text-anchor="middle" font-weight="bold" >300</text>
<text transform="translate(635.2 598.1) scale(1.0 1.07)" font-size="23" text-anchor="middle" font-weight="bold" >400</text>
<text transform="translate(694.9 598.1) scale(1.0 1.07)" font-size="23" text-anchor="middle" font-weight="bold" >500</text>
<text transform="translate(758.3 598.1) scale(1.0 1.07)" font-size="23" text-anchor="middle" font-weight="bold" >600</text>
<text transform="translate(779.3 631.2) scale(1.0 1.07)" font-size="18.2" text-anchor="end" font-weight="bold" >Times (ms)</text>
<rect x="845.9" y="354.6" width="455.1" height="282.0" fill="#fff" stroke="#000" stroke-width="2.3"/>

<line x1="884.4" y1="463.0" x2="1276.5" y2="463.0" stroke="#111" stroke-width="1.6"/>
<line x1="884.4" y1="504.7" x2="1276.5" y2="504.7" stroke="#111" stroke-width="1.6"/>
<line x1="884.4" y1="545.4" x2="1276.5" y2="545.4" stroke="#111" stroke-width="1.6"/>
<line x1="884.4" y1="586.0" x2="1276.5" y2="586.0" stroke="#111" stroke-width="1.6"/>
<line x1="884.2" y1="390.0" x2="884.2" y2="596.0" stroke="#555" stroke-width="1.6"/><line x1="884.6" y1="392.0" x2="884.6" y2="596.0" stroke="#666" stroke-width="5" stroke-dasharray="1 7.2"/><line x1="1278.6" y1="390.0" x2="1278.6" y2="597.0" stroke="#111" stroke-width="1.5"/><line x1="884.4" y1="390.4" x2="1278.6" y2="390.4" stroke="#444" stroke-width="1.5"/><line x1="884.4" y1="595.4" x2="1278.6" y2="595.4" stroke="#999" stroke-width="1.4"/><line x1="884.4" y1="421.9" x2="1278.6" y2="421.9" stroke="#111" stroke-width="2" stroke-dasharray="7 0.6"/><line x1="884.4" y1="421.9" x2="1278.6" y2="421.9" stroke="#333" stroke-width="5" stroke-dasharray="1 5.2"/>
<path d="M884.2,430.4C887.3,431.1 897.0,433.0 902.8,434.4C908.6,435.8 913.7,436.4 918.9,438.9C924.1,441.5 928.7,445.3 933.9,449.5C939.2,453.7 945.1,458.7 950.5,464.0C955.9,469.4 961.2,474.8 966.6,481.6C971.9,488.4 977.2,496.9 982.6,504.7C988.1,512.5 993.8,521.6 999.2,528.3C1004.6,535.0 1009.9,540.1 1015.3,544.9C1020.6,549.6 1025.8,553.7 1031.3,556.9C1036.8,560.1 1042.9,562.6 1048.4,564.0C1053.9,565.3 1059.3,565.1 1064.5,565.0C1069.6,564.8 1074.1,563.9 1079.5,563.0C1085.0,562.0 1091.4,561.6 1097.1,559.4C1102.8,557.3 1108.2,554.0 1113.7,549.9C1119.1,545.8 1124.4,541.4 1129.7,534.8C1135.1,528.3 1140.4,517.9 1145.8,510.7C1151.1,503.5 1156.4,497.3 1161.9,491.7C1167.3,486.0 1172.8,481.5 1178.4,476.6C1184.0,471.7 1190.1,466.9 1195.5,462.5C1200.9,458.2 1205.8,455.2 1211.1,450.5C1216.3,445.8 1221.6,439.3 1227.1,434.4C1232.6,429.6 1238.6,423.5 1244.2,421.4C1249.8,419.3 1255.3,421.0 1260.8,421.9C1266.2,422.7 1274.1,425.6 1276.8,426.4" fill="none" stroke="#1a1a1a" stroke-width="1.6" stroke-linejoin="round"/>
<circle cx="901.6" cy="435.0" r="1.7" fill="#e8e000"/>
<circle cx="903.4" cy="434.4" r="2.5" fill="#ff1010"/>
<circle cx="917.7" cy="439.5" r="1.7" fill="#e8e000"/>
<circle cx="919.5" cy="438.9" r="2.5" fill="#ff1010"/>
<circle cx="932.7" cy="450.1" r="1.7" fill="#e8e000"/>
<circle cx="934.5" cy="449.5" r="2.5" fill="#ff1010"/>
<circle cx="949.3" cy="464.6" r="1.7" fill="#e8e000"/>
<circle cx="951.1" cy="464.0" r="2.5" fill="#ff1010"/>
<circle cx="965.4" cy="482.2" r="1.7" fill="#e8e000"/>
<circle cx="967.2" cy="481.6" r="2.5" fill="#ff1010"/>
<circle cx="981.4" cy="505.3" r="1.7" fill="#e8e000"/>
<circle cx="983.2" cy="504.7" r="2.5" fill="#ff1010"/>
<circle cx="998.0" cy="528.9" r="1.7" fill="#e8e000"/>
<circle cx="999.8" cy="528.3" r="2.5" fill="#ff1010"/>
<circle cx="1014.1" cy="545.5" r="1.7" fill="#e8e000"/>
<circle cx="1015.9" cy="544.9" r="2.5" fill="#ff1010"/>
<circle cx="1030.1" cy="557.5" r="1.7" fill="#e8e000"/>
<circle cx="1031.9" cy="556.9" r="2.5" fill="#ff1010"/>
<circle cx="1047.2" cy="564.6" r="1.7" fill="#e8e000"/>
<circle cx="1049.0" cy="564.0" r="2.5" fill="#ff1010"/>
<circle cx="1063.3" cy="565.6" r="1.7" fill="#e8e000"/>
<circle cx="1065.1" cy="565.0" r="2.5" fill="#ff1010"/>
<circle cx="1078.3" cy="563.6" r="1.7" fill="#e8e000"/>
<circle cx="1080.1" cy="563.0" r="2.5" fill="#ff1010"/>
<circle cx="1095.9" cy="560.0" r="1.7" fill="#e8e000"/>
<circle cx="1097.7" cy="559.4" r="2.5" fill="#ff1010"/>
<circle cx="1112.5" cy="550.5" r="1.7" fill="#e8e000"/>
<circle cx="1114.3" cy="549.9" r="2.5" fill="#ff1010"/>
<circle cx="1128.5" cy="535.4" r="1.7" fill="#e8e000"/>
<circle cx="1130.3" cy="534.8" r="2.5" fill="#ff1010"/>
<circle cx="1144.6" cy="511.3" r="1.7" fill="#e8e000"/>
<circle cx="1146.4" cy="510.7" r="2.5" fill="#ff1010"/>
<circle cx="1160.7" cy="492.3" r="1.7" fill="#e8e000"/>
<circle cx="1162.5" cy="491.7" r="2.5" fill="#ff1010"/>
<circle cx="1177.2" cy="477.2" r="1.7" fill="#e8e000"/>
<circle cx="1179.0" cy="476.6" r="2.5" fill="#ff1010"/>
<circle cx="1194.3" cy="463.1" r="1.7" fill="#e8e000"/>
<circle cx="1196.1" cy="462.5" r="2.5" fill="#ff1010"/>
<circle cx="1209.9" cy="451.1" r="1.7" fill="#e8e000"/>
<circle cx="1211.7" cy="450.5" r="2.5" fill="#ff1010"/>
<circle cx="1225.9" cy="435.0" r="1.7" fill="#e8e000"/>
<circle cx="1227.7" cy="434.4" r="2.5" fill="#ff1010"/>
<circle cx="1243.0" cy="422.0" r="1.7" fill="#e8e000"/>
<circle cx="1244.8" cy="421.4" r="2.5" fill="#ff1010"/>
<circle cx="1259.6" cy="422.5" r="1.7" fill="#e8e000"/>
<circle cx="1261.4" cy="421.9" r="2.5" fill="#ff1010"/>
<circle cx="1275.6" cy="427.0" r="1.7" fill="#e8e000"/>
<circle cx="1277.4" cy="426.4" r="2.5" fill="#ff1010"/>

<text transform="translate(885.0 385.3) scale(1.0 1.07)" font-size="26" text-anchor="start" font-weight="bold" textLength="155.6" lengthAdjust="spacingAndGlyphs" >LV Result 3D</text>
<text transform="translate(876.2 429.7) scale(1.0 1.07)" font-size="22.5" text-anchor="end" font-weight="bold" >0</text>
<text transform="translate(876.2 471.2) scale(1.0 1.07)" font-size="22.5" text-anchor="end" font-weight="bold" >-5</text>
<text transform="translate(880.0 512.8) scale(1.0 1.07)" font-size="22.5" text-anchor="end" font-weight="bold" >-10</text>
<text transform="translate(880.0 551.6) scale(1.0 1.07)" font-size="22.5" text-anchor="end" font-weight="bold" >-15</text>
<text transform="translate(880.0 594.6) scale(1.0 1.07)" font-size="22.5" text-anchor="end" font-weight="bold" >-20</text>
<text transform="translate(943.9 416.8) scale(0.86 1.07)" font-size="18.5" text-anchor="middle" font-weight="bold" >100</text>
<text transform="translate(1008.9 416.8) scale(0.86 1.07)" font-size="18.5" text-anchor="middle" font-weight="bold" >200</text>
<text transform="translate(1066.8 416.8) scale(0.86 1.07)" font-size="18.5" text-anchor="middle" font-weight="bold" >300</text>
<text transform="translate(1129.7 416.8) scale(0.86 1.07)" font-size="18.5" text-anchor="middle" font-weight="bold" >400</text>
<text transform="translate(1189.0 416.8) scale(0.86 1.07)" font-size="18.5" text-anchor="middle" font-weight="bold" >500</text>
<text transform="translate(1249.2 416.8) scale(0.86 1.07)" font-size="18.5" text-anchor="middle" font-weight="bold" >600</text>
<text transform="translate(1279.6 621.2) scale(1.0 1.07)" font-size="18.5" text-anchor="end" font-weight="bold" >Times (ms)</text>
<rect x="1333.7" y="353.9" width="467.8" height="282.5" fill="#fff" stroke="#000" stroke-width="2"/>

<line x1="1387.0" y1="479.5" x2="1777.0" y2="479.5" stroke="#000" stroke-width="2"/>
<line x1="1387.0" y1="534.0" x2="1777.0" y2="534.0" stroke="#000" stroke-width="2"/>
<line x1="1387.0" y1="592.1" x2="1777.0" y2="592.1" stroke="#000" stroke-width="2"/>
<line x1="1386.7" y1="401.0" x2="1386.7" y2="608.5" stroke="#111" stroke-width="1.4"/><line x1="1777.6" y1="401.0" x2="1777.6" y2="608.5" stroke="#111" stroke-width="1.8"/><line x1="1387.0" y1="401.3" x2="1777.0" y2="401.3" stroke="#111" stroke-width="1.5"/><line x1="1387.0" y1="608.0" x2="1777.0" y2="608.0" stroke="#111" stroke-width="1.5"/><line x1="1387.0" y1="423.8" x2="1777.0" y2="423.8" stroke="#aaa" stroke-width="1" stroke-dasharray="1 2"/><line x1="1387.0" y1="425.5" x2="1777.0" y2="425.5" stroke="#000" stroke-width="2.2"/><line x1="1383.7" y1="387.8" x2="1398.6" y2="387.8" stroke="#222" stroke-width="1.6"/><line x1="1424.6" y1="387.8" x2="1496.5" y2="387.8" stroke="#222" stroke-width="1.6"/><line x1="1505.9" y1="387.8" x2="1528.8" y2="387.8" stroke="#222" stroke-width="1.6"/>
<path d="M1387.8,446.5C1390.5,447.8 1398.6,452.8 1403.9,454.5C1409.1,456.3 1414.2,456.1 1419.4,457.0C1424.7,457.9 1430.1,458.6 1435.5,460.0C1440.8,461.5 1446.1,461.5 1451.6,465.6C1457.0,469.6 1462.7,477.2 1468.1,484.1C1473.6,491.1 1479.1,498.5 1484.2,507.2C1489.3,515.9 1493.5,529.1 1498.8,536.3C1504.0,543.5 1510.3,544.6 1515.8,550.4C1521.3,556.2 1526.5,565.5 1531.9,571.0C1537.2,576.4 1542.6,580.9 1548.0,583.0C1553.3,585.1 1558.6,585.5 1564.0,583.5C1569.5,581.6 1575.2,578.8 1580.6,571.5C1585.9,564.2 1590.9,549.2 1596.1,539.9C1601.4,530.5 1606.9,524.4 1612.2,515.3C1617.6,506.1 1622.9,491.2 1628.3,485.1C1633.6,479.0 1639.1,480.8 1644.3,478.6C1649.6,476.4 1654.6,473.6 1659.9,472.1C1665.3,470.6 1671.0,470.9 1676.5,469.6C1681.9,468.2 1687.2,466.0 1692.5,464.0C1697.9,462.1 1703.2,460.3 1708.6,458.0C1714.0,455.8 1719.7,454.1 1725.2,450.5C1730.6,446.9 1736.0,441.0 1741.2,436.4C1746.5,431.9 1751.5,424.9 1756.8,423.4C1762.1,421.9 1770.2,426.7 1772.9,427.4" fill="none" stroke="#1a1a1a" stroke-width="1.6" stroke-linejoin="round"/>
<circle cx="1403.9" cy="454.5" r="2.3" fill="#ff1010"/>
<circle cx="1419.4" cy="457.0" r="2.3" fill="#ff1010"/>
<circle cx="1435.5" cy="460.0" r="2.3" fill="#ff1010"/>
<circle cx="1451.6" cy="465.6" r="2.3" fill="#ff1010"/>
<circle cx="1468.1" cy="484.1" r="2.3" fill="#ff1010"/>
<circle cx="1484.2" cy="507.2" r="2.3" fill="#ff1010"/>
<circle cx="1498.8" cy="536.3" r="2.3" fill="#ff1010"/>
<circle cx="1515.8" cy="550.4" r="2.3" fill="#ff1010"/>
<circle cx="1531.9" cy="571.0" r="2.3" fill="#ff1010"/>
<circle cx="1548.0" cy="583.0" r="2.3" fill="#ff1010"/>
<circle cx="1564.0" cy="583.5" r="2.3" fill="#ff1010"/>
<circle cx="1580.6" cy="571.5" r="2.3" fill="#ff1010"/>
<circle cx="1596.1" cy="539.9" r="2.3" fill="#ff1010"/>
<circle cx="1612.2" cy="515.3" r="2.3" fill="#ff1010"/>
<circle cx="1628.3" cy="485.1" r="2.3" fill="#ff1010"/>
<circle cx="1644.3" cy="478.6" r="2.3" fill="#ff1010"/>
<circle cx="1659.9" cy="472.1" r="2.3" fill="#ff1010"/>
<circle cx="1676.5" cy="469.6" r="2.3" fill="#ff1010"/>
<circle cx="1692.5" cy="464.0" r="2.3" fill="#ff1010"/>
<circle cx="1708.6" cy="458.0" r="2.3" fill="#ff1010"/>
<circle cx="1725.2" cy="450.5" r="2.3" fill="#ff1010"/>
<circle cx="1741.2" cy="436.4" r="2.3" fill="#ff1010"/>
<circle cx="1756.8" cy="423.4" r="2.3" fill="#ff1010"/>
<circle cx="1772.9" cy="427.4" r="2.3" fill="#ff1010"/>
<circle cx="1387.2" cy="446.7" r="2.4" fill="#d8d020"/>
<text transform="translate(1383.7 391.8) scale(1.0 1.07)" font-size="26" text-anchor="start" font-weight="bold" textLength="156.0" lengthAdjust="spacingAndGlyphs" >LV Result 3D</text>
<text transform="translate(1380.5 435.2) scale(1.0 1.07)" font-size="22" text-anchor="end" font-weight="bold" >0</text>
<text transform="translate(1375.6 490.0) scale(1.0 1.07)" font-size="22" text-anchor="end" font-weight="bold" >-4</text>
<text transform="translate(1375.4 544.3) scale(1.0 1.07)" font-size="22" text-anchor="end" font-weight="bold" >-8</text>
<text transform="translate(1377.2 601.5) scale(1.0 1.07)" font-size="22" text-anchor="end" font-weight="bold" >-12</text>
<text transform="translate(1442.0 422.3) scale(1.0 1.07)" font-size="22" text-anchor="middle" font-weight="bold" >100</text>
<text transform="translate(1515.8 422.3) scale(1.0 1.07)" font-size="22" text-anchor="middle" font-weight="bold" >200</text>
<text transform="translate(1576.0 422.3) scale(1.0 1.07)" font-size="22" text-anchor="middle" font-weight="bold" >300</text>
<text transform="translate(1637.3 422.3) scale(1.0 1.07)" font-size="22" text-anchor="middle" font-weight="bold" >400</text>
<text transform="translate(1703.0 422.3) scale(1.0 1.07)" font-size="22" text-anchor="middle" font-weight="bold" >500</text>
<text transform="translate(1760.8 422.3) scale(1.0 1.07)" font-size="22" text-anchor="middle" font-weight="bold" >600</text>
<text transform="translate(1778.5 630.7) scale(1.0 1.07)" font-size="18.5" text-anchor="end" font-weight="bold" >Times (ms)</text>
</svg>
</body></html>
